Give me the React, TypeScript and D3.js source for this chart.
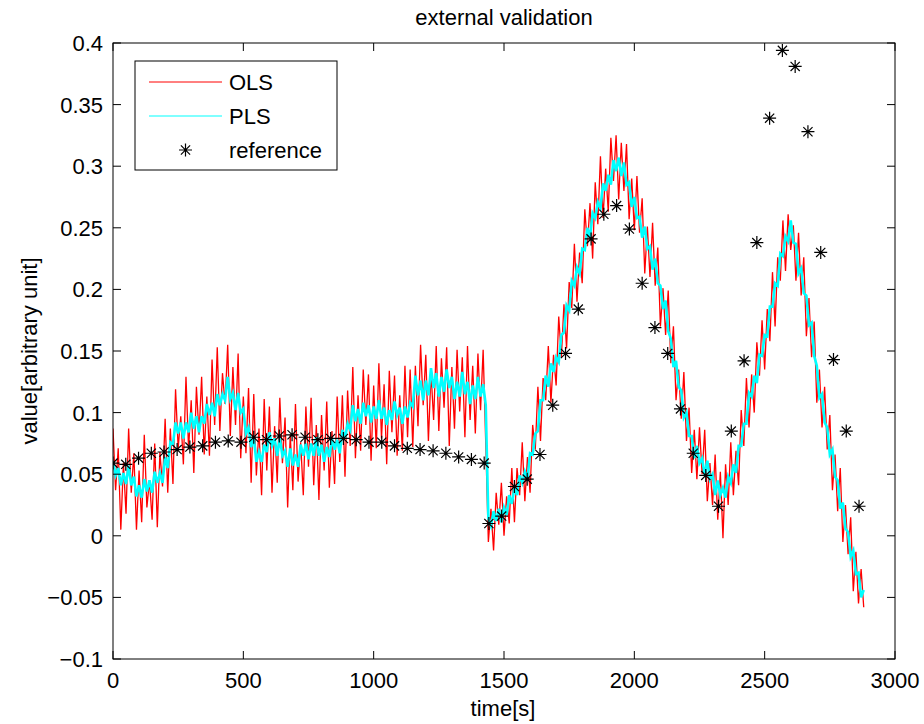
import React from "react";
import * as d3 from "d3";

// ---- data ----
const xTicks = [0, 500, 1000, 1500, 2000, 2500, 3000];
const xTickLabels = ["0", "500", "1000", "1500", "2000", "2500", "3000"];
const yTicks = [-0.1, -0.05, 0, 0.05, 0.1, 0.15, 0.2, 0.25, 0.3, 0.35, 0.4];
const yTickLabels = ["\u22120.1", "\u22120.05", "0", "0.05", "0.1", "0.15", "0.2", "0.25", "0.3", "0.35", "0.4"];

// sample grid of the two experiments (s)
const time1 = d3.range(0, 1440, 10);
const time2 = d3.range(1440, 2881, 10);

const ols1 = [
  .087,.037,.071,.005,.059,.018,.087,.035,.067,.005,
  .053,.011,.082,.023,.045,.013,.075,.007,.068,.040,
  .095,.035,.087,.042,.119,.071,.097,.058,.129,.070,
  .110,.051,.121,.082,.129,.066,.113,.065,.143,.090,
  .153,.085,.132,.107,.155,.081,.137,.090,.148,.063,
  .113,.067,.120,.043,.115,.049,.087,.033,.111,.053,
  .105,.035,.089,.043,.112,.059,.096,.023,.082,.037,
  .107,.044,.076,.033,.105,.056,.112,.041,.090,.029,
  .098,.053,.109,.039,.085,.042,.113,.060,.114,.048,
  .118,.073,.137,.063,.114,.069,.135,.090,.131,.061,
  .122,.071,.140,.079,.123,.058,.134,.084,.130,.065,
  .114,.069,.138,.080,.135,.072,.138,.089,.155,.106,
  .147,.077,.133,.094,.154,.085,.144,.104,.153,.073,
  .137,.087,.151,.101,.145,.080,.154,.094,.138,.083,
  .148,.102,.151,.075,
];
const pls1 = [
  .060,.049,.055,.041,.051,.042,.057,.041,.048,.032,
  .041,.031,.046,.036,.045,.035,.052,.043,.051,.043,
  .064,.055,.076,.074,.092,.083,.092,.079,.092,.084,
  .100,.087,.097,.084,.097,.091,.107,.098,.108,.097,
  .115,.106,.115,.110,.129,.111,.116,.102,.116,.100,
  .103,.083,.088,.072,.080,.060,.068,.060,.074,.068,
  .084,.073,.079,.065,.079,.065,.069,.056,.071,.057,
  .066,.056,.074,.065,.075,.062,.075,.065,.080,.065,
  .074,.060,.072,.064,.079,.070,.078,.067,.086,.079,
  .091,.086,.106,.093,.103,.091,.108,.097,.106,.092,
  .105,.095,.110,.095,.104,.090,.102,.094,.109,.098,
  .104,.091,.105,.096,.108,.105,.130,.114,.126,.110,
  .126,.114,.136,.120,.132,.113,.129,.117,.135,.120,
  .129,.111,.125,.113,.133,.115,.125,.107,.122,.111,
  .129,.113,.123,.106,
];
const ols2 = [
  -.005,.022,-.012,.035,.009,.043,.000,.032,.010,.055,
  .011,.055,.033,.076,.028,.064,.035,.090,.070,.121,
  .077,.128,.110,.154,.108,.147,.122,.178,.145,.188,
  .152,.206,.185,.237,.190,.230,.205,.265,.235,.270,
  .225,.287,.253,.308,.258,.298,.263,.323,.288,.325,
  .273,.319,.280,.318,.257,.290,.248,.292,.246,.274,
  .213,.251,.210,.254,.203,.234,.170,.201,.163,.199,
  .140,.170,.110,.135,.095,.133,.077,.104,.051,.086,
  .046,.088,.050,.086,.028,.059,.025,.066,.013,.052,
  -.002,.058,.025,.076,.033,.069,.041,.102,.073,.128,
  .088,.131,.100,.157,.130,.175,.135,.184,.158,.214,
  .170,.226,.207,.256,.215,.261,.232,.252,.207,.246,
  .195,.226,.162,.193,.145,.174,.108,.135,.088,.121,
  .070,.098,.037,.066,.020,.055,-.005,.025,-.015,.015,
  -.045,-.013,-.055,-.027,-.058,
];
const pls2 = [
  .014,.008,.020,.012,.022,.011,.023,.017,.033,.026,
  .039,.033,.049,.043,.052,.046,.067,.066,.083,.085,
  .110,.110,.130,.121,.140,.133,.145,.141,.163,.165,
  .187,.183,.207,.203,.218,.213,.233,.232,.250,.242,
  .262,.258,.271,.266,.286,.280,.293,.285,.305,.296,
  .307,.292,.303,.285,.287,.267,.275,.258,.259,.242,
  .251,.233,.235,.216,.225,.205,.203,.184,.191,.166,
  .160,.137,.142,.121,.118,.096,.100,.081,.081,.063,
  .073,.059,.063,.049,.061,.046,.050,.033,.045,.033,
  .039,.031,.048,.043,.058,.051,.073,.073,.091,.091,
  .116,.113,.130,.124,.147,.146,.163,.162,.186,.186,
  .205,.203,.229,.227,.243,.239,.256,.238,.237,.213,
  .217,.197,.195,.171,.173,.146,.138,.112,.115,.092,
  .088,.066,.070,.048,.045,.022,.027,.006,.003,-.017,
  -.012,-.031,-.030,-.050,-.044,
];

const refTimes = [
  0, 49, 98, 147, 196, 246, 295, 344, 393, 442, 491, 540, 589, 638, 687,
  737, 786, 835, 884, 933, 982, 1031, 1080, 1129, 1178, 1228, 1277, 1326, 1375, 1424,
  1442, 1491, 1540, 1589, 1638, 1687, 1736, 1785, 1834, 1883, 1932, 1981, 2030, 2079, 2128,
  2177, 2226, 2274, 2323, 2372, 2421, 2470, 2519, 2568, 2617, 2666, 2715, 2764, 2813, 2862,
];
const refValues = [
  .059, .058, .063, .067, .068, .070, .072, .073, .076, .077, .076, .080, .078, .081, .082,
  .080, .078, .079, .079, .078, .076, .076, .073, .071, .070, .069, .067, .064, .062, .059,
  .010, .016, .040, .046, .066, .106, .148, .184, .241, .261, .268, .249, .205, .169, .148,
  .103, .067, .049, .024, .085, .142, .238, .339, .394, .381, .328, .230, .143, .085, .024,
];

const seriesNames = ["OLS", "PLS", "reference"];
const seriesColors = ["#ff0000", "#00ffff", "#000000"];

const W = 924, H = 724;
const plot = { left: 113, right: 895, top: 43, bottom: 659 };
const FONT = "'Liberation Sans', Arial, Helvetica, sans-serif";
const FS = 22;
const STAR = "M-6.5,0H6.5M0,-6.5V6.5M-4.6,-4.6L4.6,4.6M-4.6,4.6L4.6,-4.6";

export default function App() {
  const x = d3.scaleLinear().domain([0, 3000]).range([plot.left, plot.right]);
  const y = d3.scaleLinear().domain([-0.1, 0.4]).range([plot.bottom, plot.top]);
  const times = [...time1, ...time2];
  const olsAll = [...ols1, ...ols2];
  const plsAll = [...pls1, ...pls2];
  const olsPts: [number, number][] = times.map((t, i) => [t, olsAll[i]]);
  const plsPts: [number, number][] = times.map((t, i) => [t, plsAll[i]]);
  const line = d3.line<[number, number]>().x((d) => x(d[0])).y((d) => y(d[1]));
  const tick = 8;

  return (
    <svg width={W} height={H} style={{ position: "absolute", left: 0, top: 0, background: "#fff" }}
      fontFamily={FONT} fontSize={FS}>
      <rect x={0} y={0} width={W} height={H} fill="#fff" />
      <defs>
        <clipPath id="clip">
          <rect x={plot.left} y={plot.top} width={plot.right - plot.left} height={plot.bottom - plot.top} />
        </clipPath>
      </defs>
      <g clipPath="url(#clip)">
        <path d={line(olsPts) || ""} fill="none" stroke={seriesColors[0]} strokeWidth={1.3} />
        <path d={line(plsPts) || ""} fill="none" stroke={seriesColors[1]} strokeWidth={2.6} />
        {refTimes.map((t, i) => (
          <path key={i} d={STAR} transform={`translate(${x(t)},${y(refValues[i])})`}
            stroke={seriesColors[2]} strokeWidth={1.2} fill="none" />
        ))}
      </g>
      {/* axes box */}
      <rect x={plot.left} y={plot.top} width={plot.right - plot.left} height={plot.bottom - plot.top}
        fill="none" stroke="#000" strokeWidth={1} />
      {xTicks.map((v, i) => (
        <g key={"x" + i}>
          <line x1={x(v)} x2={x(v)} y1={plot.bottom} y2={plot.bottom - tick} stroke="#000" />
          <line x1={x(v)} x2={x(v)} y1={plot.top} y2={plot.top + tick} stroke="#000" />
          <text x={x(v)} y={688} textAnchor="middle">{xTickLabels[i]}</text>
        </g>
      ))}
      {yTicks.map((v, i) => (
        <g key={"y" + i}>
          <line x1={plot.left} x2={plot.left + tick} y1={y(v)} y2={y(v)} stroke="#000" />
          <line x1={plot.right} x2={plot.right - tick} y1={y(v)} y2={y(v)} stroke="#000" />
          <text x={103} y={y(v) + 8} textAnchor="end">{yTickLabels[i]}</text>
        </g>
      ))}
      <text x={(plot.left + plot.right) / 2} y={25} textAnchor="middle">external validation</text>
      <text x={503} y={716} textAnchor="middle">time[s]</text>
      <text transform={`translate(37,${(plot.top + plot.bottom) / 2}) rotate(-90)`} textAnchor="middle">
        value[arbitrary unit]
      </text>
      {/* legend */}
      <g>
        <rect x={135} y={61} width={202} height={109} fill="#fff" stroke="#000" strokeWidth={1} />
        {seriesNames.map((n, i) => {
          const cy = 82 + i * 34;
          return (
            <g key={n}>
              {i < 2 ? (
                <line x1={149} x2={222} y1={cy} y2={cy} stroke={seriesColors[i]} strokeWidth={1} />
              ) : (
                <path d={STAR} transform={`translate(185.5,${cy})`} stroke="#000" strokeWidth={1.2} fill="none" />
              )}
              <text x={229} y={cy + 8}>{n}</text>
            </g>
          );
        })}
      </g>
    </svg>
  );
}
